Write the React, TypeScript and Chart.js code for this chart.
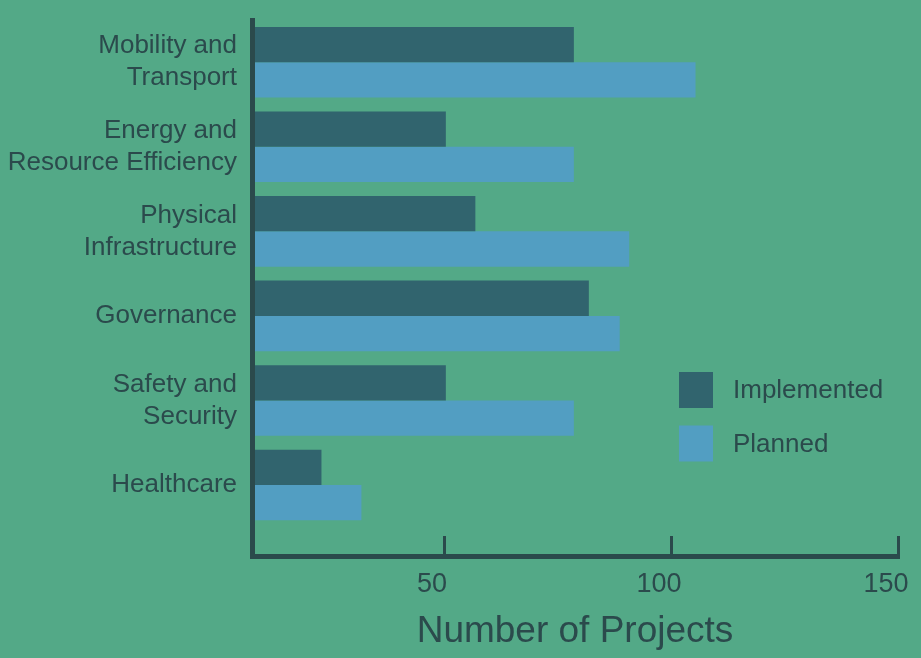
import { useEffect, useRef } from "react";
import { Chart, registerables } from "chart.js";

Chart.register(...registerables);

const categories: string[][] = [
  ["Mobility and", "Transport"],
  ["Energy and", "Resource Efficiency"],
  ["Physical", "Infrastructure"],
  ["Governance"],
  ["Safety and", "Security"],
  ["Healthcare"],
];
const seriesNames = ["Implemented", "Planned"];
const implemented = [78.6, 50.4, 56.9, 81.9, 50.4, 23.0];
const planned = [105.4, 78.6, 90.8, 88.7, 78.6, 31.8];
const xTickValues = [50, 100, 150];
const xTitle = "Number of Projects";

const BG = "#53a987";
const DARK = "#31646e";
const LIGHT = "#529ec2";
const INK = "#2b4a4c";
const FAMILY = "'Liberation Sans', Arial, Helvetica, sans-serif";

const legendPlugin = {
  id: "sideLegend",
  afterDraw(chart: any) {
    const ctx = chart.ctx as CanvasRenderingContext2D;
    ctx.save();
    chart.data.datasets.forEach((ds: any, i: number) => {
      const top = 372 + i * 53.5;
      ctx.fillStyle = ds.backgroundColor;
      ctx.fillRect(679, top, 34, 36);
      ctx.fillStyle = INK;
      ctx.font = `26px ${FAMILY}`;
      ctx.textBaseline = "middle";
      ctx.textAlign = "left";
      ctx.fillText(ds.label, 733, top + 19);
    });
    ctx.restore();
  },
};

export default function App() {
  const ref = useRef<HTMLCanvasElement | null>(null);

  useEffect(() => {
    document.body.style.margin = "0";
    document.body.style.background = BG;
    if (!ref.current) return;
    const chart = new Chart(ref.current, {
      type: "bar",
      data: {
        datasets: [
          {
            label: seriesNames[0],
            data: implemented.map((v, i) => ({ x: v, y: i })),
            backgroundColor: DARK,
            borderWidth: 0,
            categoryPercentage: 0.835,
            barPercentage: 1,
          },
          {
            label: seriesNames[1],
            data: planned.map((v, i) => ({ x: v, y: i })),
            backgroundColor: LIGHT,
            borderWidth: 0,
            categoryPercentage: 0.835,
            barPercentage: 1,
          },
        ],
      },
      options: {
        indexAxis: "y",
        animation: false,
        responsive: false,
        layout: { padding: { top: 20, right: 23, bottom: 0, left: 0 } },
        plugins: {
          legend: { display: false },
          tooltip: { enabled: false },
        },
        scales: {
          x: {
            type: "linear",
            position: "bottom",
            min: 7.7,
            max: 150,
            offset: false,
            afterBuildTicks: (s: any) => {
              s.ticks = xTickValues.map((v) => ({ value: v }));
            },
            afterFit: (s: any) => {
              s.height = 102;
              s.paddingLeft = 0;
              s.paddingRight = 0;
            },
            grid: {
              display: true,
              drawOnChartArea: false,
              drawTicks: true,
              tickLength: -20,
              lineWidth: 3,
              color: INK,
              z: 1,
            },
            border: { display: true, width: 5, color: INK, z: 1 },
            ticks: {
              color: INK,
              font: { family: FAMILY, size: 27 },
              padding: 32,
              labelOffset: -12,
              maxRotation: 0,
              autoSkip: false,
            },
            title: {
              display: true,
              text: xTitle,
              color: INK,
              font: { family: FAMILY, size: 37 },
              padding: { top: 0, bottom: 4 },
            },
          },
          y: {
            type: "linear",
            reverse: true,
            offset: false,
            min: -0.5,
            max: 5.84,
            afterBuildTicks: (s: any) => {
              s.ticks = categories.map((_, i) => ({ value: i }));
            },
            afterFit: (s: any) => {
              s.width = 252;
              s.paddingTop = 0;
              s.paddingBottom = 0;
            },
            grid: { display: true, offset: false, drawOnChartArea: false, drawTicks: false, color: INK },
            border: { display: true, width: 5, color: INK, z: 1 },
            ticks: {
              color: INK,
              font: { family: FAMILY, size: 26, lineHeight: 1.23 },
              padding: 15,
              autoSkip: false,
              callback: (v: any) => categories[v as number] ?? "",
            },
          },
        },
      },
      plugins: [legendPlugin],
    } as any);
    return () => chart.destroy();
  }, []);

  return (
    <div style={{ width: 921, height: 658, background: BG, position: "relative" }}>
      <canvas ref={ref} width={921} height={658} style={{ display: "block", width: 921, height: 658 }} />
    </div>
  );
}
